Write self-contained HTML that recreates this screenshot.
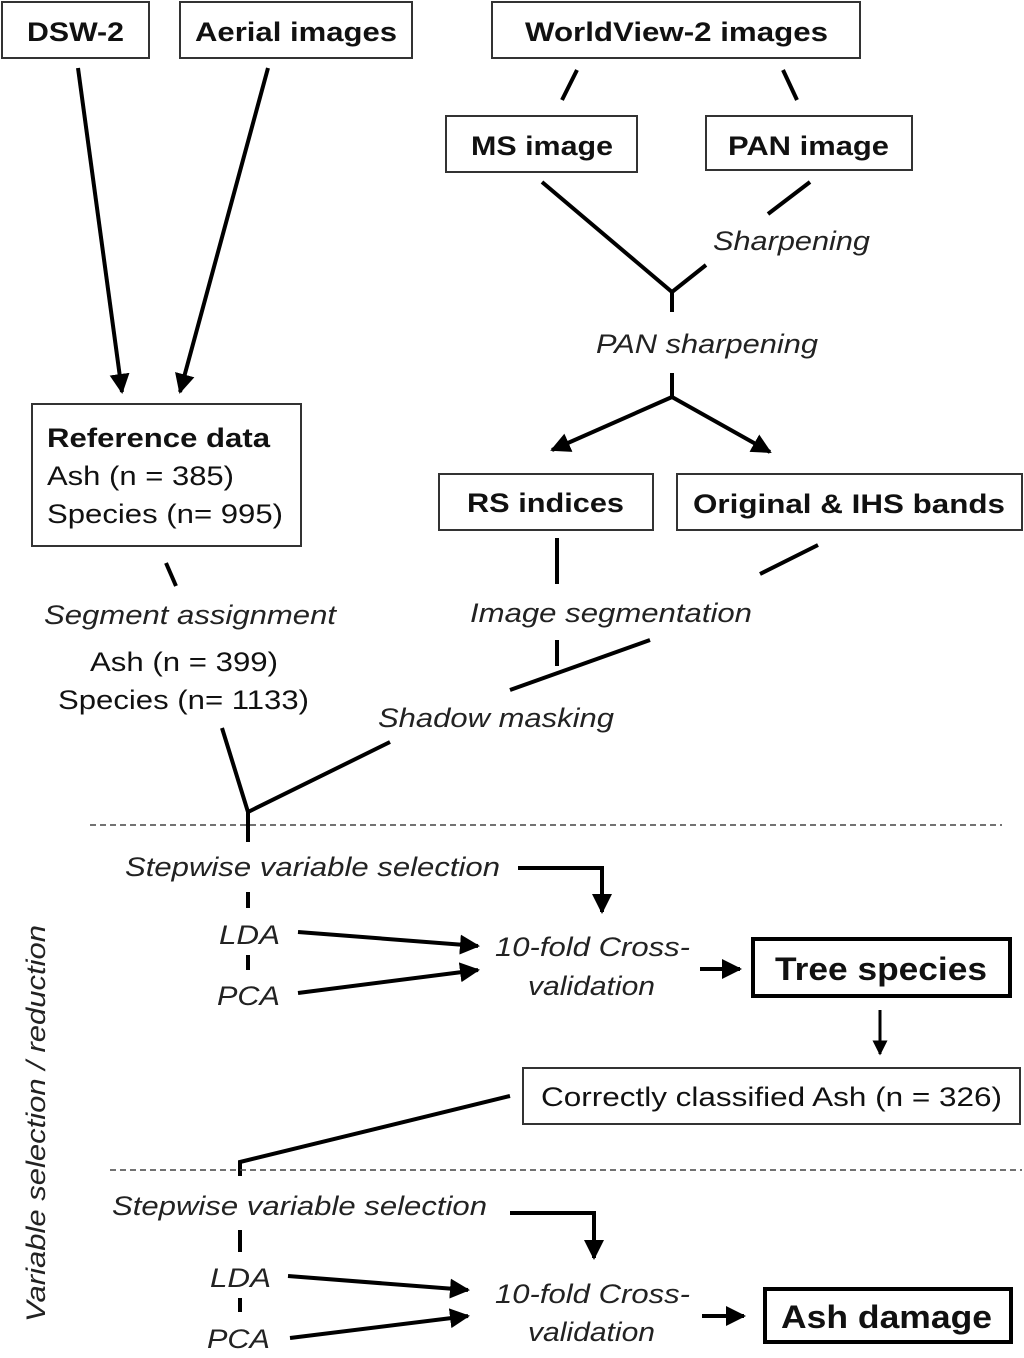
<!DOCTYPE html>
<html><head><style>
body{margin:0;background:#fff}
svg{display:block}
text{font-family:"Liberation Sans",Arial,sans-serif;fill:#111}
.b{font-weight:bold;font-size:27px}
.n{font-size:27px}
.i{font-style:italic;font-size:27px;fill:#222}
</style></head><body>
<svg width="1024" height="1358" viewBox="0 0 1024 1358" xmlns="http://www.w3.org/2000/svg">
<defs>
<marker id="ah" viewBox="0 0 10 10" refX="9" refY="5" markerWidth="5" markerHeight="5" orient="auto"><path d="M0,0 L10,5 L0,10 z" fill="#000"/></marker>
</defs>
<g fill="#fff" stroke="#333" stroke-width="2">
<rect x="2" y="2" width="147" height="56"/>
<rect x="180" y="2" width="232" height="56"/>
<rect x="492" y="2" width="368" height="56"/>
<rect x="446" y="116" width="191" height="56"/>
<rect x="706" y="116" width="206" height="54"/>
<rect x="32" y="404" width="269" height="142"/>
<rect x="439" y="474" width="214" height="56"/>
<rect x="677" y="474" width="345" height="56"/>
<rect x="523" y="1068" width="497" height="56"/>
</g>
<g fill="#fff" stroke="#000" stroke-width="4">
<rect x="753" y="939" width="257" height="57"/>
<rect x="765" y="1289" width="246" height="53"/>
</g>
<g lengthAdjust="spacingAndGlyphs">
<text class="b" x="27" y="41" textLength="97" lengthAdjust="spacingAndGlyphs">DSW-2</text>
<text class="b" x="195" y="41" textLength="202" lengthAdjust="spacingAndGlyphs">Aerial images</text>
<text class="b" x="525" y="41" textLength="303" lengthAdjust="spacingAndGlyphs">WorldView-2 images</text>
<text class="b" x="471" y="155" textLength="142" lengthAdjust="spacingAndGlyphs">MS image</text>
<text class="b" x="728" y="155" textLength="161" lengthAdjust="spacingAndGlyphs">PAN image</text>
<text class="b" x="467" y="512" textLength="157" lengthAdjust="spacingAndGlyphs">RS indices</text>
<text class="b" x="693" y="513" textLength="312" lengthAdjust="spacingAndGlyphs">Original &amp; IHS bands</text>
<text class="b" x="775" y="980" textLength="212" lengthAdjust="spacingAndGlyphs" style="font-size:32px">Tree species</text>
<text class="b" x="781" y="1328" textLength="211" lengthAdjust="spacingAndGlyphs" style="font-size:32px">Ash damage</text>
<text class="b" x="47" y="447" textLength="223" lengthAdjust="spacingAndGlyphs">Reference data</text>
<text class="n" x="47" y="485" textLength="187" lengthAdjust="spacingAndGlyphs">Ash (n = 385)</text>
<text class="n" x="47" y="523" textLength="236" lengthAdjust="spacingAndGlyphs">Species (n= 995)</text>
<text class="n" x="90" y="671" textLength="188" lengthAdjust="spacingAndGlyphs">Ash (n = 399)</text>
<text class="n" x="58" y="709" textLength="251" lengthAdjust="spacingAndGlyphs">Species (n= 1133)</text>
<text class="n" x="541" y="1106" textLength="461" lengthAdjust="spacingAndGlyphs">Correctly classified Ash (n = 326)</text>
<text class="i" x="713" y="250" textLength="157" lengthAdjust="spacingAndGlyphs">Sharpening</text>
<text class="i" x="596" y="353" textLength="222" lengthAdjust="spacingAndGlyphs">PAN sharpening</text>
<text class="i" x="44" y="624" textLength="292" lengthAdjust="spacingAndGlyphs">Segment assignment</text>
<text class="i" x="470" y="622" textLength="282" lengthAdjust="spacingAndGlyphs">Image segmentation</text>
<text class="i" x="378" y="727" textLength="236" lengthAdjust="spacingAndGlyphs">Shadow masking</text>
<text class="i" x="125" y="876" textLength="375" lengthAdjust="spacingAndGlyphs">Stepwise variable selection</text>
<text class="i" x="219" y="944" textLength="61" lengthAdjust="spacingAndGlyphs">LDA</text>
<text class="i" x="217" y="1005" textLength="63" lengthAdjust="spacingAndGlyphs">PCA</text>
<text class="i" x="495" y="956" textLength="195" lengthAdjust="spacingAndGlyphs">10-fold Cross-</text>
<text class="i" x="528" y="995" textLength="127" lengthAdjust="spacingAndGlyphs">validation</text>
<text class="i" x="112" y="1215" textLength="375" lengthAdjust="spacingAndGlyphs">Stepwise variable selection</text>
<text class="i" x="210" y="1287" textLength="61" lengthAdjust="spacingAndGlyphs">LDA</text>
<text class="i" x="207" y="1348" textLength="63" lengthAdjust="spacingAndGlyphs">PCA</text>
<text class="i" x="495" y="1303" textLength="195" lengthAdjust="spacingAndGlyphs">10-fold Cross-</text>
<text class="i" x="528" y="1341" textLength="127" lengthAdjust="spacingAndGlyphs">validation</text>
<text class="i" x="0" y="0" transform="translate(45,1322) rotate(-90)" textLength="397" lengthAdjust="spacingAndGlyphs">Variable selection / reduction</text>
</g>
<g stroke="#000" stroke-width="4" fill="none">
<line x1="78" y1="68" x2="122" y2="392" marker-end="url(#ah)"/>
<line x1="268" y1="68" x2="180" y2="392" marker-end="url(#ah)"/>
<line x1="577" y1="70" x2="562" y2="100"/>
<line x1="783" y1="70" x2="797" y2="100"/>
<polyline points="542,182 672,292 706,265"/>
<line x1="810" y1="182" x2="768" y2="214"/>
<line x1="672" y1="292" x2="672" y2="312"/>
<line x1="672" y1="373" x2="672" y2="397"/>
<line x1="672" y1="397" x2="552" y2="450" marker-end="url(#ah)"/>
<line x1="672" y1="397" x2="770" y2="452" marker-end="url(#ah)"/>
<line x1="557" y1="538" x2="557" y2="584"/>
<line x1="557" y1="640" x2="557" y2="666"/>
<line x1="818" y1="545" x2="760" y2="574"/>
<line x1="650" y1="640" x2="510" y2="690"/>
<line x1="166" y1="563" x2="176" y2="586"/>
<polyline points="222,728 248,812 390,742"/>
<line x1="248" y1="812" x2="248" y2="842"/>
<line x1="248" y1="892" x2="248" y2="908"/>
<line x1="248" y1="955" x2="248" y2="970"/>
<polyline points="518,868 602,868 602,912" marker-end="url(#ah)"/>
<line x1="298" y1="932" x2="478" y2="946" marker-end="url(#ah)"/>
<line x1="298" y1="993" x2="478" y2="970" marker-end="url(#ah)"/>
<line x1="700" y1="969" x2="740" y2="969" marker-end="url(#ah)"/>
<line x1="880" y1="1010" x2="880" y2="1054" marker-end="url(#ah)" stroke-width="3"/>
<polyline points="510,1096 240,1162 240,1176"/>
<polyline points="510,1213 594,1213 594,1258" marker-end="url(#ah)"/>
<line x1="240" y1="1230" x2="240" y2="1252"/>
<line x1="240" y1="1298" x2="240" y2="1312"/>
<line x1="288" y1="1276" x2="468" y2="1290" marker-end="url(#ah)"/>
<line x1="290" y1="1338" x2="468" y2="1316" marker-end="url(#ah)"/>
<line x1="702" y1="1316" x2="744" y2="1316" marker-end="url(#ah)"/>
</g>
<g stroke="#444" stroke-width="1.5" stroke-dasharray="6,4">
<line x1="90" y1="825" x2="1002" y2="825"/>
<line x1="110" y1="1170" x2="1022" y2="1170"/>
</g>
</svg>
</body></html>
